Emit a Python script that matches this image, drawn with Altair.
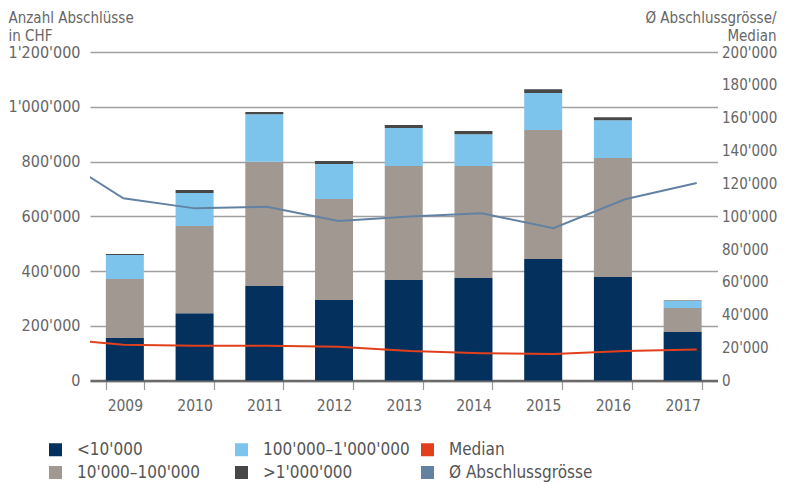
import altair as alt
import pandas as pd

# ---- data ----
years = ["2009", "2010", "2011", "2012", "2013", "2014", "2015", "2016", "2017"]
categories = ["<10'000", "10'000–100'000", "100'000–1'000'000", ">1'000'000"]
cnt_lt_10k = [155000, 246000, 345000, 294000, 367000, 374000, 444000, 378000, 177000]
cnt_10k_100k = [216000, 318000, 454000, 369000, 417000, 410000, 471000, 435000, 88000]
cnt_100k_1m = [87000, 121000, 174000, 128000, 138000, 116000, 135000, 138000, 25000]
cnt_gt_1m = [4000, 11000, 8000, 11000, 11000, 11000, 14000, 11000, 2000]

line_years = [2008, 2009, 2010, 2011, 2012, 2013, 2014, 2015, 2016, 2017]
avg_size = [138700, 110900, 104800, 105800, 97100, 99800, 101800, 92700, 110300, 120200]
median = [25700, 21800, 21200, 21200, 20600, 18000, 16600, 16100, 18000, 18800]
line_names = ["Median", "Ø Abschlussgrösse"]

legend_domain = ["<10'000", "10'000–100'000", "100'000–1'000'000", ">1'000'000",
                 "Median", "Ø Abschlussgrösse"]
legend_colors = ["#04305e", "#a19891", "#7dc4ec", "#474747", "#e2401c", "#6382a3"]

rows = []
for ci, (cat, vals) in enumerate(zip(categories, [cnt_lt_10k, cnt_10k_100k, cnt_100k_1m, cnt_gt_1m])):
    for y, v in zip(years, vals):
        rows.append({"year": y, "series": cat, "value": v, "order": ci})
bar_df = pd.DataFrame(rows)

lrows = []
for name, vals in zip(line_names, [median, avg_size]):
    for y, v in zip(line_years, vals):
        lrows.append({"yr": y, "series": name, "value": v})
line_df = pd.DataFrame(lrows)

FONT = "DejaVu Sans Condensed, Roboto"
FS = 16
TFS = 15
TXT = "#666666"

color = alt.Color(
    "series:N",
    scale=alt.Scale(domain=legend_domain, range=legend_colors),
    legend=alt.Legend(
        title=None, orient="none", legendX=-43, legendY=389,
        columns=3, gridAlign="all", columnPadding=9, rowPadding=5,
        symbolType="square", symbolSize=169, symbolStrokeWidth=0,
        symbolOpacity=1, labelFont=FONT, labelFontSize=17, labelColor="#555555",
        labelOffset=13, labelLimit=300,
    ),
)

bars = alt.Chart(bar_df).mark_bar().encode(
    x=alt.X("year:N", sort=years,
            scale=alt.Scale(paddingInner=0.455, paddingOuter=0.2275),
            axis=alt.Axis(title=None, labelAngle=0, tickBand="extent",
                          domainColor="#6a6a6a", domainWidth=2.5,
                          tickColor="#999999", tickWidth=1.2, tickSize=9,
                          labelFont=FONT, labelFontSize=15.5, labelColor=TXT,
                          labelPadding=9)),
    y=alt.Y("value:Q", stack="zero",
            scale=alt.Scale(domain=[0, 1200000], nice=False),
            axis=alt.Axis(title=["Anzahl Abschlüsse", "in CHF"],
                          titleAngle=0, titleAlign="left", titleBaseline="alphabetic",
                          titleX=-82, titleY=-29.5, titleLineHeight=17.8,
                          titleFont=FONT, titleFontSize=TFS, titleFontWeight="normal",
                          titleColor=TXT,
                          values=[0, 200000, 400000, 600000, 800000, 1000000, 1200000],
                          format=",d", grid=True, gridColor="#a0a0a0", gridWidth=1.5,
                          domain=False, ticks=False, labelPadding=10,
                          labelFont=FONT, labelFontSize=FS, labelColor=TXT)),
    color=color,
    order=alt.Order("order:Q"),
)

lines = alt.Chart(line_df).mark_line(clip=True, strokeWidth=2).encode(
    x=alt.X("yr:Q", scale=alt.Scale(domain=[2008.535, 2017.29], nice=False, zero=False),
            axis=None),
    y=alt.Y("value:Q", scale=alt.Scale(domain=[0, 200000], nice=False),
            axis=alt.Axis(orient="right", title=["Ø Abschlussgrösse/", "Median"],
                          titleAngle=0, titleAlign="right", titleBaseline="alphabetic",
                          titleX=58.5, titleY=-29.5, titleLineHeight=17.8,
                          titleFont=FONT, titleFontSize=TFS, titleFontWeight="normal",
                          titleColor=TXT,
                          values=list(range(0, 200001, 20000)), format=",d",
                          grid=False, domain=False, ticks=False, labelPadding=4,
                          labelFont=FONT, labelFontSize=15, labelColor=TXT)),
    color=color,
)

chart = alt.layer(bars, lines).resolve_scale(
    x="independent", y="independent"
).properties(
    width=627.5, height=328.5,
    autosize=alt.AutoSizeParams(type="none"),
    padding={"left": 82, "top": 44, "right": 61, "bottom": 110},
).configure(
    locale={"number": {"decimal": ".", "thousands": "'", "grouping": [3],
                       "currency": ["", ""]}}
).configure_view(stroke=None)

chart.save("out.html", embed_options={"renderer": "svg", "actions": False})
